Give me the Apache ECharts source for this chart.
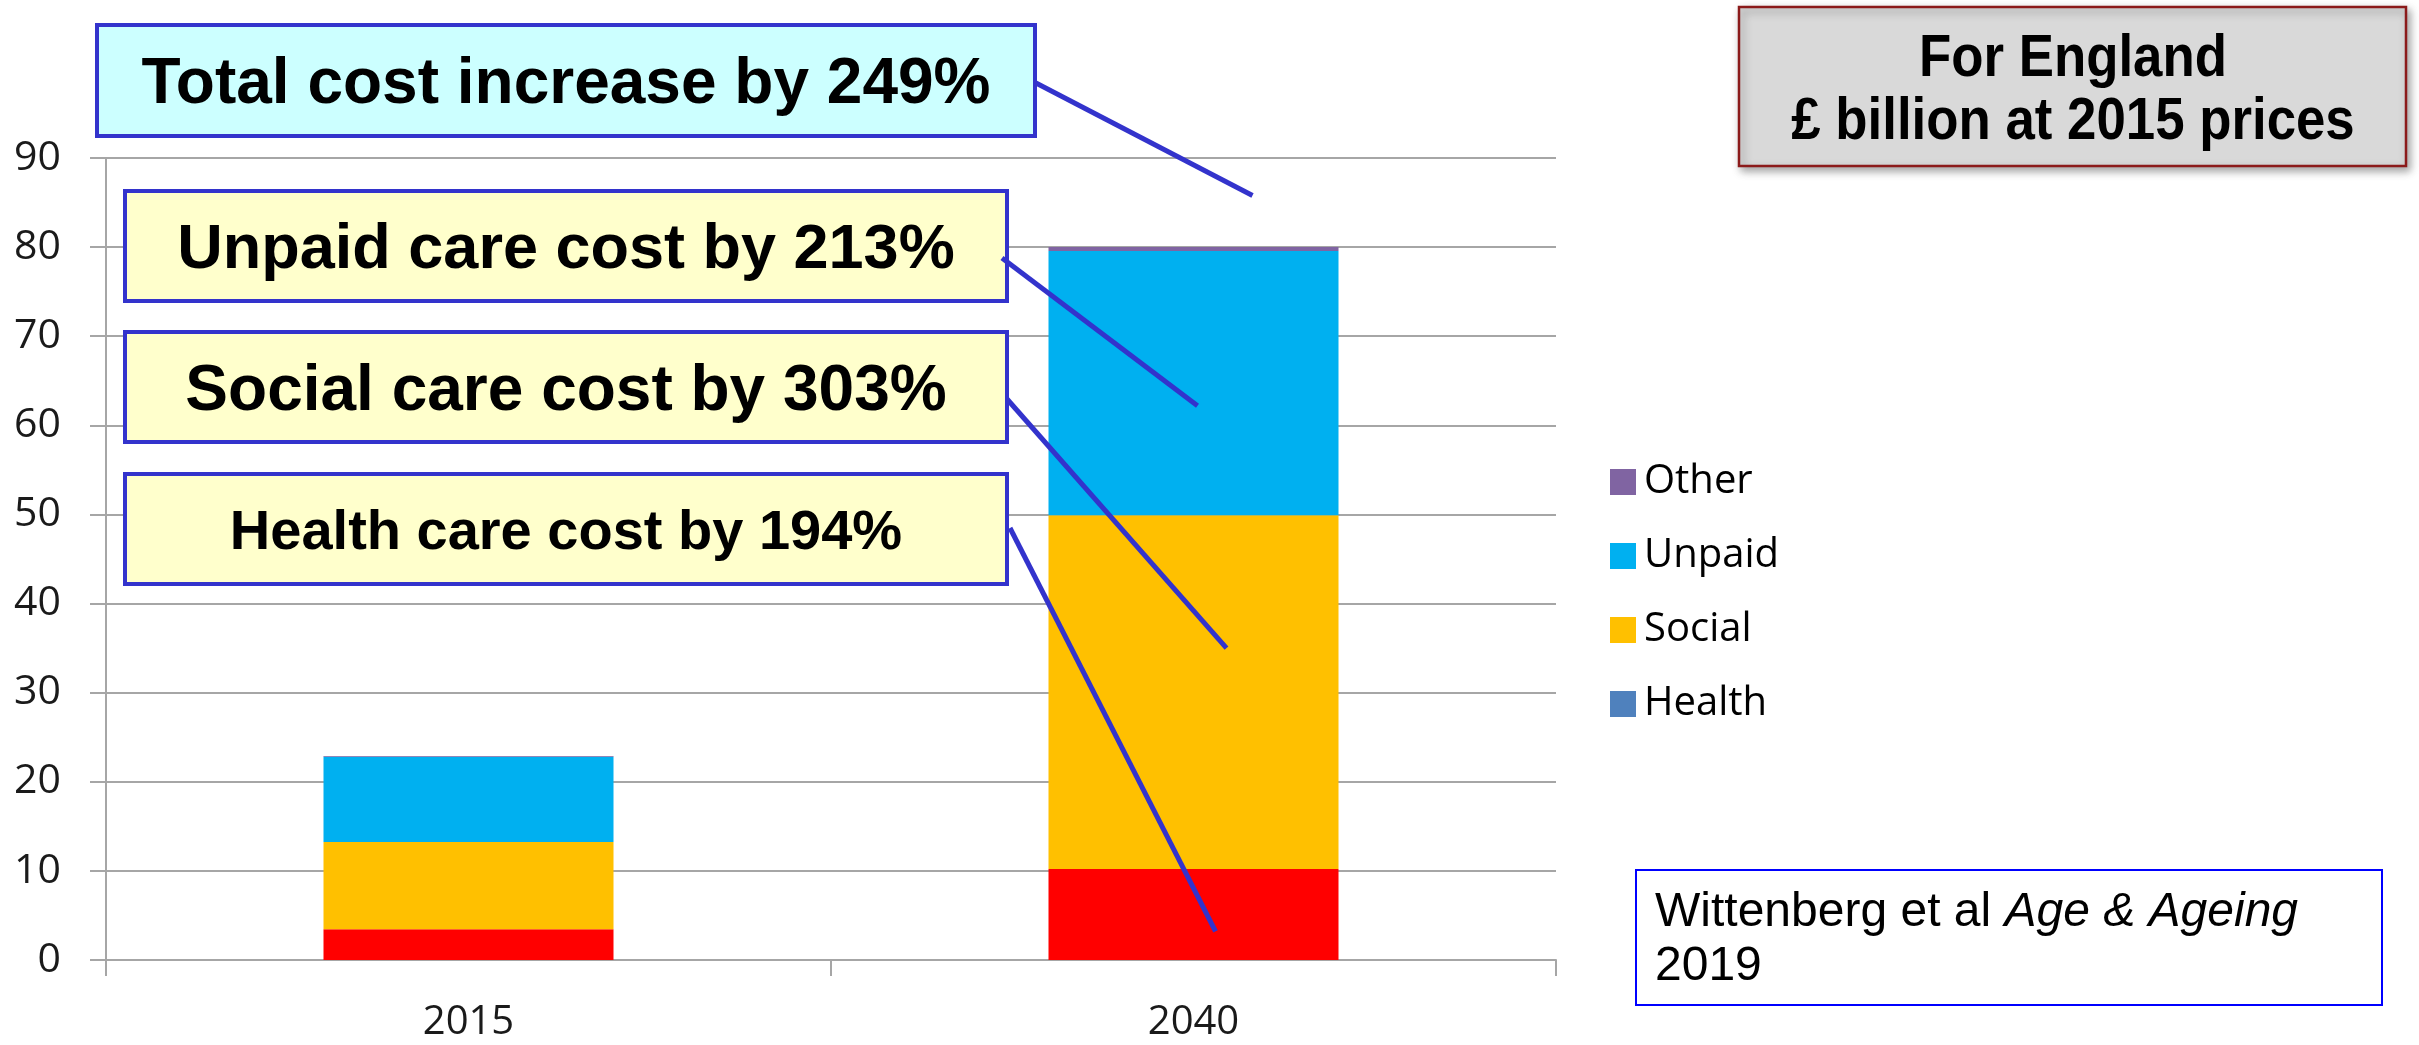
<!DOCTYPE html>
<html>
<head>
<meta charset="utf-8">
<title>Cost of care, England</title>
<script src="https://cdn.jsdelivr.net/npm/echarts@6/dist/echarts.min.js"></script>
<style>
    html, body { margin: 0; padding: 0; background: #fff; }
    #chart { width: 2419px; height: 1045px; }
</style>
</head>
<body>
<div id="chart"></div>
<script>
// 数据（£ billion, 2015 prices）
var years = ['2015', '2040'];
var health = [3.45, 10.2];
var social = [9.8, 39.7];
var unpaid = [9.55, 29.65];
var other = [0.1, 0.45];
var yTicks = {min: 0, max: 90, step: 10};

// 标注框文字和指向的数值（2040）
var callouts = ['Total cost increase by 249%', 'Unpaid care cost by 213%', 'Social care cost by 303%', 'Health care cost by 194%'];
var calloutTarget = [85.8, 62.2, 35, 3.2];

var axisGrey = '#A6A6A6';
var leaderBlue = '#3333CC';

var myChart = echarts.init(document.getElementById('chart'));

function barSeries(name, values, color) {
    return {
        name: name,
        type: 'bar',
        stack: 'cost',
        barWidth: '40%',
        itemStyle: {color: color},
        data: values
    };
}

function calloutBox(x, y, w, h, fill, text, fontSize) {
    return [{
        type: 'rect',
        shape: {x: x, y: y, width: w, height: h},
        style: {fill: fill, stroke: leaderBlue, lineWidth: 4},
        z: 10
    }, {
        type: 'text',
        x: x + w / 2,
        y: y + h / 2 + 5,
        style: {
            text: text,
            fill: '#000',
            font: 'bold ' + fontSize + 'px "Liberation Sans", Arial, sans-serif',
            textAlign: 'center',
            textVerticalAlign: 'middle'
        },
        z: 11
    }];
}

var option = {
    animation: false,
    backgroundColor: '#fff',
    grid: {left: 106, right: 863, top: 158, bottom: 85},
    legend: {
        orient: 'vertical',
        left: 1605,
        top: 457,
        itemWidth: 26,
        itemHeight: 26,
        itemGap: 34,
        icon: 'rect',
        selectedMode: false,
        textStyle: {fontFamily: 'Open Sans', fontSize: 40, color: '#000', lineHeight: 40, padding: [0, 0, 0, 3]},
        data: [
            {name: 'Other'},
            {name: 'Unpaid'},
            {name: 'Social'},
            {name: 'Health', itemStyle: {color: '#4F81BD'}}
        ]
    },
    xAxis: {
        type: 'category',
        data: years,
        axisLine: {lineStyle: {color: axisGrey, width: 2}},
        axisTick: {show: true, length: 16, lineStyle: {color: axisGrey, width: 2}},
        axisLabel: {fontFamily: 'Open Sans', fontSize: 40, color: '#1a1a1a', margin: 43}
    },
    yAxis: {
        type: 'value',
        min: yTicks.min,
        max: yTicks.max,
        interval: yTicks.step,
        axisLine: {show: true, lineStyle: {color: axisGrey, width: 2}},
        axisTick: {show: true, length: 16, lineStyle: {color: axisGrey, width: 2}},
        splitLine: {lineStyle: {color: axisGrey, width: 2}},
        axisLabel: {fontFamily: 'Open Sans', fontSize: 41, color: '#1a1a1a', margin: 45}
    },
    series: [
        barSeries('Health', health, '#FF0000'),
        barSeries('Social', social, '#FFC000'),
        barSeries('Unpaid', unpaid, '#00B0F0'),
        barSeries('Other', other, '#8064A2')
    ]
};
myChart.setOption(option);

// 引线：起点在框边，终点由 2040 柱子的坐标换算
var leaderStart = [[1036, 83], [1002, 258], [1007, 399], [1010, 528]];
var leaderDx = [59, 4, 33, 22];
var leaders = [];
for (let i = 0; i < callouts.length; i++) {
    let p = myChart.convertToPixel({xAxisIndex: 0, yAxisIndex: 0}, [years[1], calloutTarget[i]]);
    leaders.push({
        type: 'line',
        shape: {x1: leaderStart[i][0], y1: leaderStart[i][1], x2: p[0] + leaderDx[i], y2: p[1]},
        style: {stroke: leaderBlue, lineWidth: 5},
        z: 12
    });
}

var graphics = [].concat(
    calloutBox(97, 25, 938, 111, '#CCFFFF', callouts[0], 64),
    calloutBox(125, 191, 882, 110, '#FFFFCC', callouts[1], 63),
    calloutBox(125, 332, 882, 110, '#FFFFCC', callouts[2], 64),
    calloutBox(125, 474, 882, 110, '#FFFFCC', callouts[3], 56),
    leaders,
    [{
        type: 'rect',
        shape: {x: 1739, y: 7, width: 667, height: 159},
        style: {
            fill: '#D9D9D9', stroke: '#8B1A1A', lineWidth: 2.5,
            shadowBlur: 8, shadowOffsetX: 3, shadowOffsetY: 4, shadowColor: 'rgba(0,0,0,0.35)'
        },
        z: 10
    }, {
        type: 'text',
        x: 2073, y: 59,
        scaleX: 0.88,
        style: {
            text: 'For England',
            font: 'bold 60px "Liberation Sans", Arial, sans-serif',
            fill: '#000', textAlign: 'center', textVerticalAlign: 'middle'
        },
        z: 11
    }, {
        type: 'text',
        x: 2073, y: 122,
        scaleX: 0.88,
        style: {
            text: '£ billion at 2015 prices',
            font: 'bold 60px "Liberation Sans", Arial, sans-serif',
            fill: '#000', textAlign: 'center', textVerticalAlign: 'middle'
        },
        z: 11
    }, {
        type: 'rect',
        shape: {x: 1636, y: 870, width: 746, height: 135},
        style: {fill: '#fff', stroke: '#0000FF', lineWidth: 2},
        z: 10
    }, {
        type: 'text',
        x: 1655, y: 940,
        style: {
            text: '{n|Wittenberg et al }{i|Age & Ageing}\n{n|2019}',
            fill: '#000',
            textVerticalAlign: 'middle',
            rich: {
                n: {fontFamily: '"Liberation Sans", Arial, sans-serif', fontSize: 48, lineHeight: 54, fill: '#000'},
                i: {fontFamily: '"Liberation Sans", Arial, sans-serif', fontStyle: 'italic', fontSize: 48, lineHeight: 54, fill: '#000'}
            }
        },
        z: 11
    }]
);
myChart.setOption({graphic: graphics});
</script>
</body>
</html>
